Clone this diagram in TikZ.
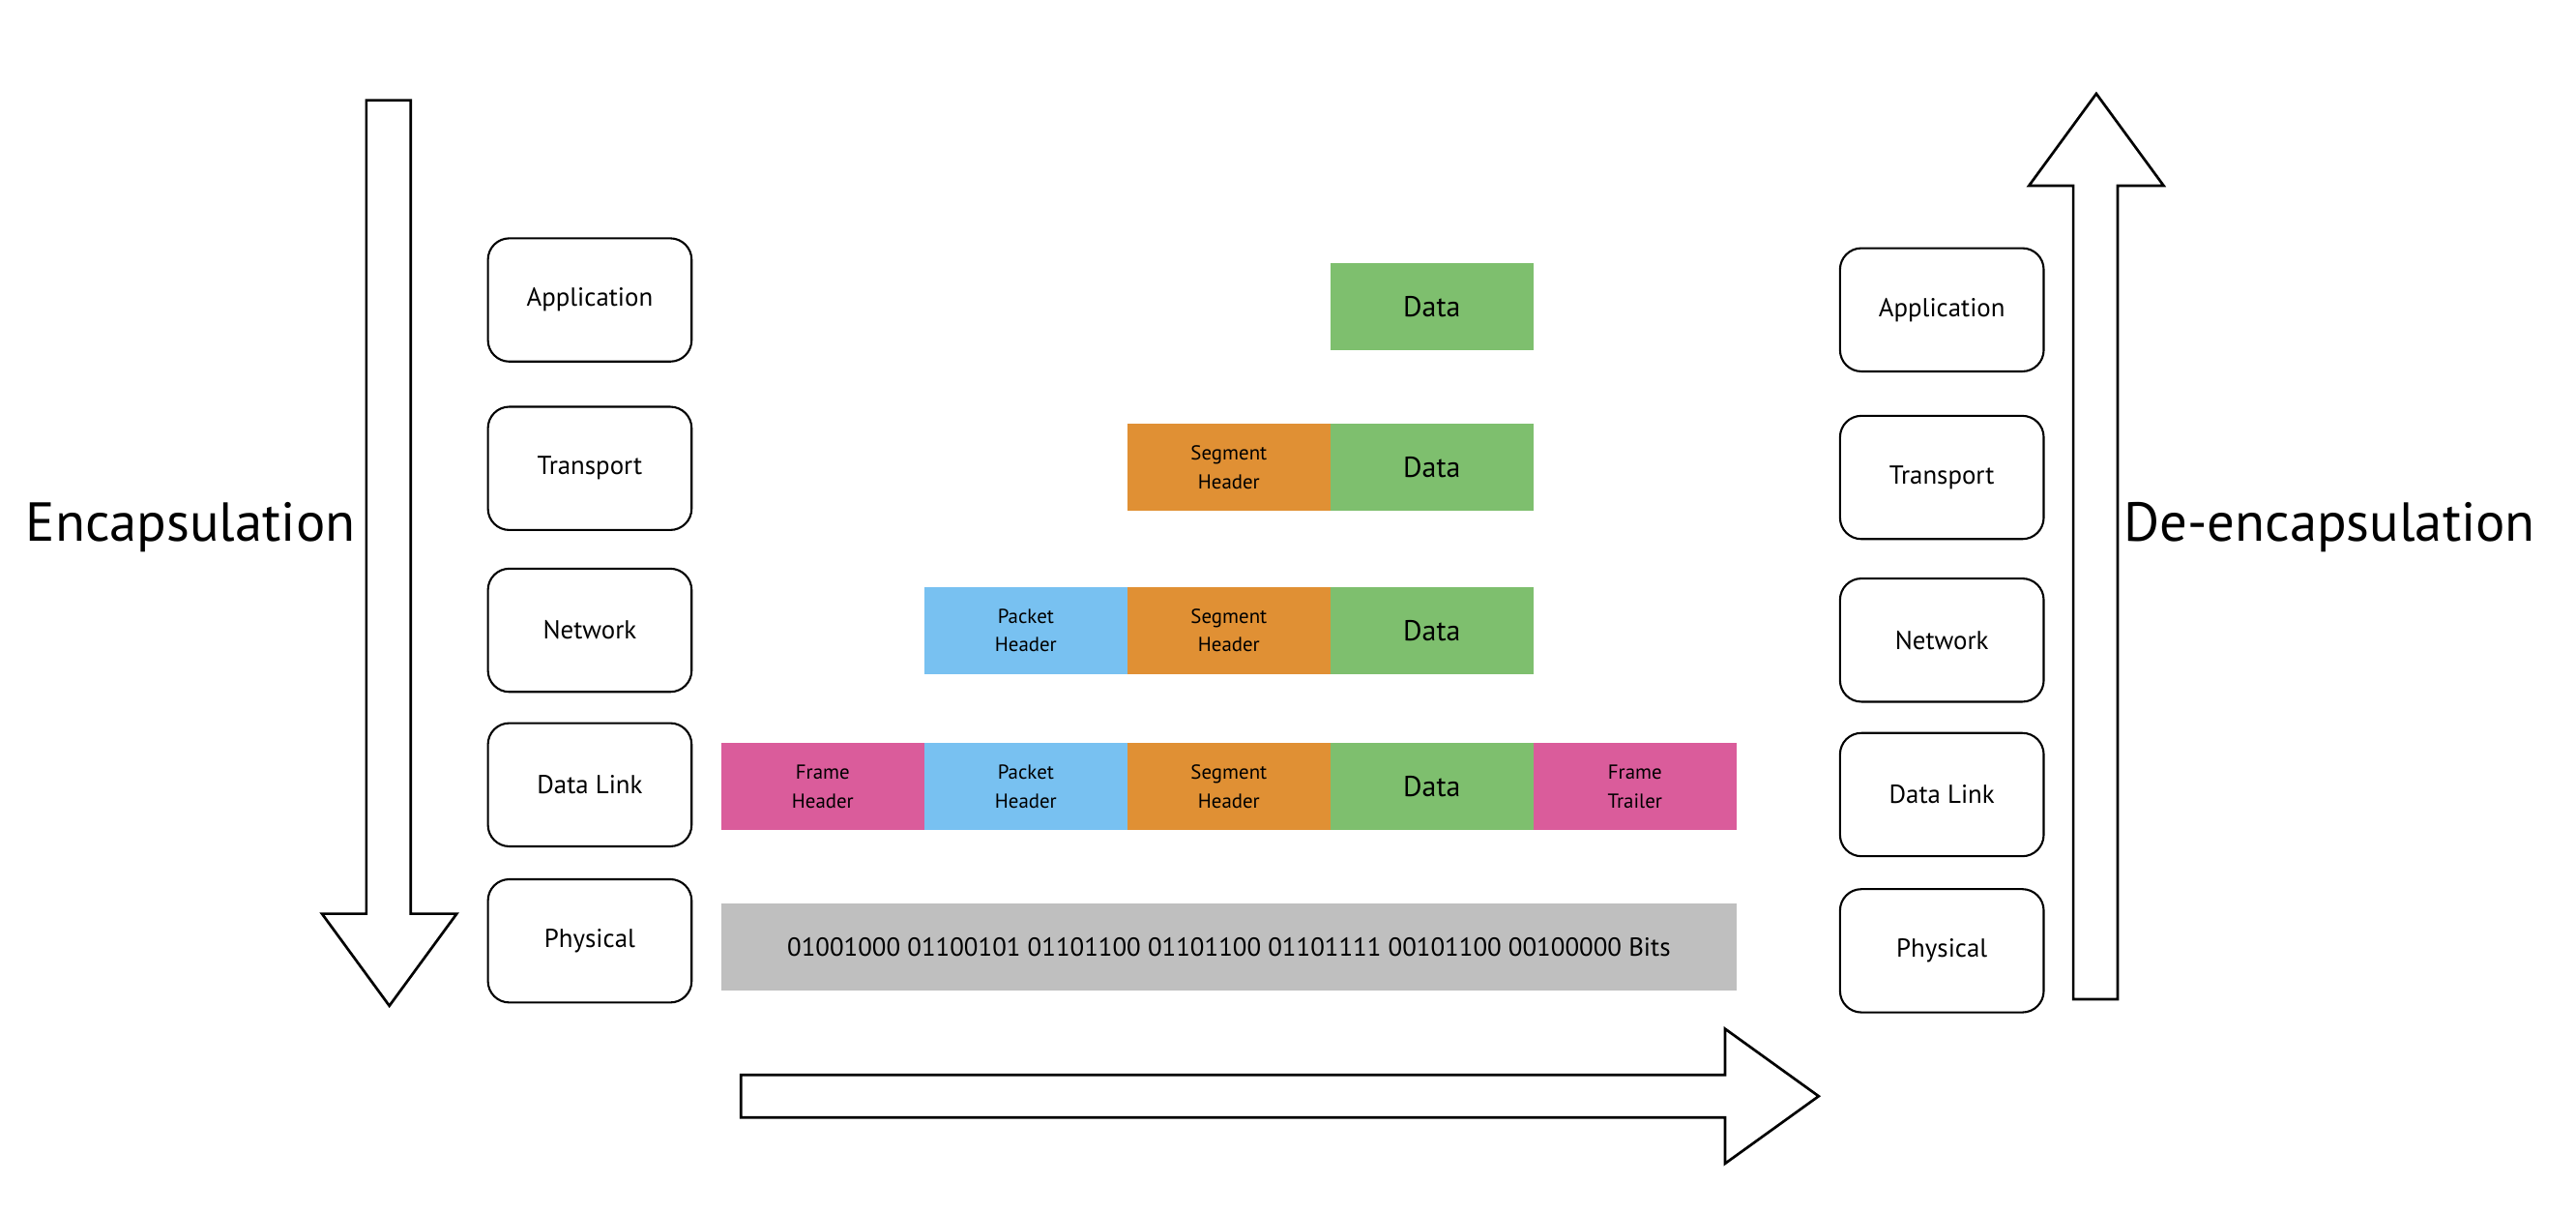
\documentclass[tikz,border=0pt]{standalone}
\usepackage{fontspec}
\setmainfont{PT Sans}
\usetikzlibrary{positioning}

\definecolor{datagreen}{RGB}{126,191,110}
\definecolor{segorange}{RGB}{224,144,52}
\definecolor{packblue}{RGB}{120,193,241}
\definecolor{framepink}{RGB}{218,92,155}
\definecolor{bitgray}{RGB}{191,191,191}

\begin{document}
\begin{tikzpicture}[x=0.02cm, y=-0.02cm,
  layer/.style={draw, line width=0.7pt, rounded corners=0.26cm, minimum width=2.48cm, minimum height=1.5cm, inner sep=0pt, font=\small},
  block/.style={inner sep=0pt, outer sep=0pt, minimum width=2.472cm, minimum height=1.06cm, align=center, font=\scriptsize, text depth=0pt},
  bigarrow/.style={draw, line width=0.9pt, fill=white, line join=miter}]
\useasboundingbox (0,0) rectangle (1568,738);

% left stack
\node[layer] (LA) at (359,182.5) {Application};
\node[layer] (LT) at (359,285) {Transport};
\node[layer] (LN) at (359,383.5) {Network};
\node[layer] (LD) at (359,477.5) {Data Link};
\node[layer] (LP) at (359,572.5) {Physical};

% right stack
\node[layer] (RA) at (1182,188.5) {Application};
\node[layer] (RT) at (1182,290.5) {Transport};
\node[layer] (RN) at (1182,389.5) {Network};
\node[layer] (RD) at (1182,483.5) {Data Link};
\node[layer] (RP) at (1182,578.5) {Physical};

% application row
\node[block, fill=datagreen, font=\normalsize] (AD) at (871.6,186.5) {Data};

% transport row
\node[block, fill=segorange] (TS) at (748,284.5) {Segment\\[2pt]Header};
\node[block, fill=datagreen, font=\normalsize] (TD) at (871.6,284.5) {Data};

% network row
\node[block, fill=packblue] (NP) at (624.4,383.5) {Packet\\[2pt]Header};
\node[block, fill=segorange] (NS) at (748,383.5) {Segment\\[2pt]Header};
\node[block, fill=datagreen, font=\normalsize] (ND) at (871.6,383.5) {Data};

% data link row
\node[block, fill=framepink] (DF) at (500.8,478.5) {Frame\\[2pt]Header};
\node[block, fill=packblue] (DP) at (624.4,478.5) {Packet\\[2pt]Header};
\node[block, fill=segorange] (DS) at (748,478.5) {Segment\\[2pt]Header};
\node[block, fill=datagreen, font=\normalsize] (DD) at (871.6,478.5) {Data};
\node[block, fill=framepink] (DT) at (995.2,478.5) {Frame\\[2pt]Trailer};

% physical row
\node[block, fill=bitgray, minimum width=12.36cm, font=\small] (PB) at (748,576) {01001000 01100101 01101100 01101100 01101111 00101100 00100000 Bits};

% block arrows
\draw[bigarrow] (223,61) -- (250,61) -- (250,556) -- (278,556) -- (237,612) -- (196,556) -- (223,556) -- cycle;
\draw[bigarrow] (1262,608) -- (1289,608) -- (1289,113) -- (1317,113) -- (1276,57) -- (1235,113) -- (1262,113) -- cycle;
\draw[bigarrow] (451,654) -- (1050,654) -- (1050,626) -- (1107,667) -- (1050,708) -- (1050,680) -- (451,680) -- cycle;

\node[font=\fontsize{19}{22}\selectfont] (enc) at (116,321) {Encapsulation};
\node[font=\fontsize{19}{22}\selectfont] (denc) at (1418,321) {De-encapsulation};
\end{tikzpicture}
\end{document}
